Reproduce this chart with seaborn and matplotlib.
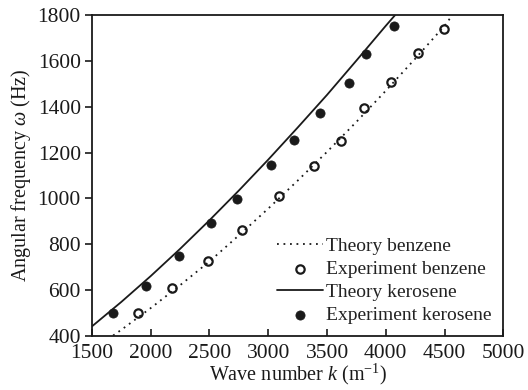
import matplotlib
matplotlib.use("Agg")
import matplotlib.pyplot as plt
import seaborn as sns

# Theory curves
k_theory_benzene = [1680, 1750, 2000, 2250, 2500, 2750, 3000, 3250, 3500, 3750, 4000, 4250, 4500, 4566]
w_theory_benzene = [400, 425, 520, 620, 724, 838, 955, 1077, 1203, 1334, 1470, 1610, 1754, 1800]
k_theory_kerosene = [1500, 1750, 2000, 2250, 2500, 2750, 3000, 3250, 3500, 3750, 4000, 4078]
w_theory_kerosene = [440, 547, 660, 779, 904, 1034, 1169, 1309, 1452, 1602, 1754, 1800]

# Experiments
k_exp_benzene = [1894, 2183, 2485, 2774, 3090, 3389, 3619, 3815, 4045, 4277, 4496]
w_exp_benzene = [500, 606, 724, 861, 1010, 1142, 1250, 1393, 1510, 1633, 1741]
k_exp_kerosene = [1680, 1960, 2240, 2515, 2734, 3026, 3219, 3440, 3690, 3835, 4068]
w_exp_kerosene = [500, 618, 749, 890, 998, 1145, 1256, 1372, 1503, 1631, 1754]

x_ticks = [1500, 2000, 2500, 3000, 3500, 4000, 4500, 5000]
y_ticks = [400, 600, 800, 1000, 1200, 1400, 1600, 1800]

sns.set_style("ticks")
plt.rcParams['font.family'] = ['Liberation Serif', 'DejaVu Serif']
plt.rcParams['mathtext.fontset'] = 'custom'
plt.rcParams['mathtext.rm'] = 'Liberation Serif'
plt.rcParams['mathtext.it'] = 'Liberation Serif:italic'

fig = plt.figure(figsize=(5.28, 3.90), dpi=100)
ax = fig.add_axes([0.1742, 0.1397, 0.779, 0.8211])

col = "#1a1a1a"
sns.lineplot(x=k_theory_benzene, y=w_theory_benzene, ax=ax, color=col,
             linestyle=(0, (1, 2.6)), linewidth=1.3, label="Theory benzene", sort=False)
sns.scatterplot(x=k_exp_benzene, y=w_exp_benzene, ax=ax, marker="o", s=36,
                facecolor="white", edgecolor=col, linewidth=1.6, label="Experiment benzene")
sns.lineplot(x=k_theory_kerosene, y=w_theory_kerosene, ax=ax, color=col,
             linewidth=1.3, label="Theory kerosene", sort=False)
sns.scatterplot(x=k_exp_kerosene, y=w_exp_kerosene, ax=ax, marker="o", s=44,
                color=col, edgecolor=col, linewidth=0.5, label="Experiment kerosene")

ax.set_xlim(1500, 5000)
ax.set_ylim(400, 1800)
ax.set_xticks(x_ticks)
ax.set_yticks(y_ticks)
ax.tick_params(axis='x', direction='in', length=5, width=1.2, labelsize=15.5, pad=6, colors=col)
ax.tick_params(axis='y', direction='out', length=5, width=1.2, labelsize=15.5, pad=3, colors=col)
for s in ax.spines.values():
    s.set_linewidth(1.3)
    s.set_color(col)
    s.set_visible(True)

ax.set_xlabel("Wave number $k$ (m$^{\\mathregular{-1}}$)", fontsize=14.5, labelpad=-1, color=col)
ax.set_ylabel("Angular frequency $\\omega$ (Hz)", fontsize=14.5, labelpad=3, color=col)

leg = ax.legend(loc="lower right", frameon=False, fontsize=14, handlelength=2.4,
                handletextpad=0.15, labelspacing=0.27, borderaxespad=0.2,
                bbox_to_anchor=(1.0, 0.0))
for t in leg.get_texts():
    t.set_color("#222222")

fig.savefig("out.png", dpi=100)
